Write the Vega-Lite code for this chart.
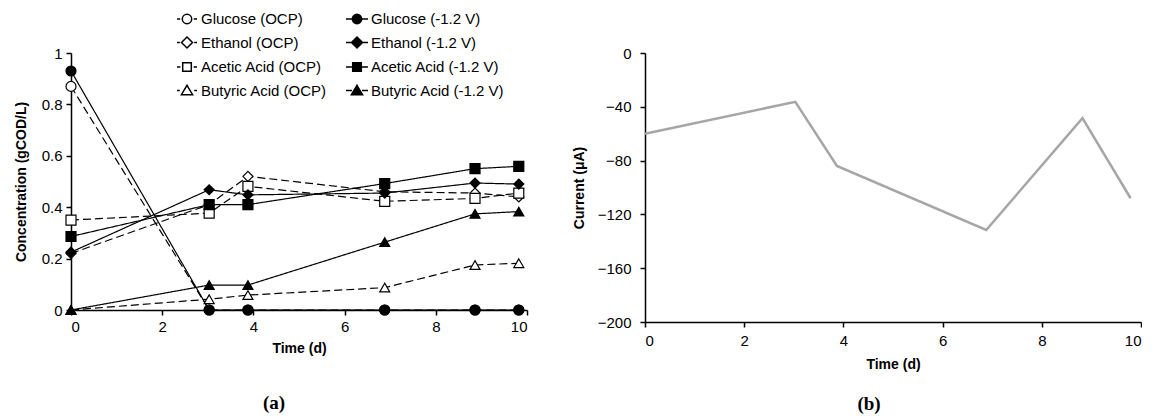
{
  "$schema": "https://vega.github.io/schema/vega-lite/v6.json",
  "padding": {"left": 14, "top": 8, "right": 0, "bottom": 0},
  "spacing": 44,
  "background": "white",
  "config": {
    "view": {"stroke": null},
    "axis": {
      "grid": false,
      "domainColor": "black", "domainWidth": 1.5,
      "tickColor": "black", "tickWidth": 1.5, "tickSize": 5,
      "labelFont": "Liberation Sans", "labelFontSize": 15, "labelColor": "black",
      "titleFont": "Liberation Sans", "titleFontSize": 14, "titleFontWeight": "bold", "titleColor": "black"
    },
    "title": {"font": "Liberation Serif", "fontSize": 19, "fontWeight": "bold", "color": "black"}
  },
  "hconcat": [
    {
      "width": 456,
      "height": 257,
      "title": {"text": "(a)", "orient": "bottom", "anchor": "middle", "dx": -25, "offset": 39},
      "data": {"values": [
        {"t": 0, "series": "Glucose (OCP)", "cond": "OCP", "v": 0.87},
        {"t": 3.03, "series": "Glucose (OCP)", "cond": "OCP", "v": 0.0},
        {"t": 3.88, "series": "Glucose (OCP)", "cond": "OCP", "v": 0.0},
        {"t": 6.88, "series": "Glucose (OCP)", "cond": "OCP", "v": 0.0},
        {"t": 8.86, "series": "Glucose (OCP)", "cond": "OCP", "v": 0.0},
        {"t": 9.82, "series": "Glucose (OCP)", "cond": "OCP", "v": 0.0},
        {"t": 0, "series": "Ethanol (OCP)", "cond": "OCP", "v": 0.22},
        {"t": 3.03, "series": "Ethanol (OCP)", "cond": "OCP", "v": 0.41},
        {"t": 3.88, "series": "Ethanol (OCP)", "cond": "OCP", "v": 0.52},
        {"t": 6.88, "series": "Ethanol (OCP)", "cond": "OCP", "v": 0.46},
        {"t": 8.86, "series": "Ethanol (OCP)", "cond": "OCP", "v": 0.455},
        {"t": 9.82, "series": "Ethanol (OCP)", "cond": "OCP", "v": 0.44},
        {"t": 0, "series": "Acetic Acid (OCP)", "cond": "OCP", "v": 0.35},
        {"t": 3.03, "series": "Acetic Acid (OCP)", "cond": "OCP", "v": 0.377},
        {"t": 3.88, "series": "Acetic Acid (OCP)", "cond": "OCP", "v": 0.481},
        {"t": 6.88, "series": "Acetic Acid (OCP)", "cond": "OCP", "v": 0.423},
        {"t": 8.86, "series": "Acetic Acid (OCP)", "cond": "OCP", "v": 0.434},
        {"t": 9.82, "series": "Acetic Acid (OCP)", "cond": "OCP", "v": 0.455},
        {"t": 0, "series": "Butyric Acid (OCP)", "cond": "OCP", "v": 0.0},
        {"t": 3.03, "series": "Butyric Acid (OCP)", "cond": "OCP", "v": 0.042},
        {"t": 3.88, "series": "Butyric Acid (OCP)", "cond": "OCP", "v": 0.058},
        {"t": 6.88, "series": "Butyric Acid (OCP)", "cond": "OCP", "v": 0.087},
        {"t": 8.86, "series": "Butyric Acid (OCP)", "cond": "OCP", "v": 0.175},
        {"t": 9.82, "series": "Butyric Acid (OCP)", "cond": "OCP", "v": 0.182},
        {"t": 0, "series": "Glucose (-1.2 V)", "cond": "-1.2 V", "v": 0.93},
        {"t": 3.03, "series": "Glucose (-1.2 V)", "cond": "-1.2 V", "v": 0.0},
        {"t": 3.88, "series": "Glucose (-1.2 V)", "cond": "-1.2 V", "v": 0.0},
        {"t": 6.88, "series": "Glucose (-1.2 V)", "cond": "-1.2 V", "v": 0.0},
        {"t": 8.86, "series": "Glucose (-1.2 V)", "cond": "-1.2 V", "v": 0.0},
        {"t": 9.82, "series": "Glucose (-1.2 V)", "cond": "-1.2 V", "v": 0.0},
        {"t": 0, "series": "Ethanol (-1.2 V)", "cond": "-1.2 V", "v": 0.225},
        {"t": 3.03, "series": "Ethanol (-1.2 V)", "cond": "-1.2 V", "v": 0.468},
        {"t": 3.88, "series": "Ethanol (-1.2 V)", "cond": "-1.2 V", "v": 0.448},
        {"t": 6.88, "series": "Ethanol (-1.2 V)", "cond": "-1.2 V", "v": 0.455},
        {"t": 8.86, "series": "Ethanol (-1.2 V)", "cond": "-1.2 V", "v": 0.494},
        {"t": 9.82, "series": "Ethanol (-1.2 V)", "cond": "-1.2 V", "v": 0.49},
        {"t": 0, "series": "Acetic Acid (-1.2 V)", "cond": "-1.2 V", "v": 0.286},
        {"t": 3.03, "series": "Acetic Acid (-1.2 V)", "cond": "-1.2 V", "v": 0.41},
        {"t": 3.88, "series": "Acetic Acid (-1.2 V)", "cond": "-1.2 V", "v": 0.41},
        {"t": 6.88, "series": "Acetic Acid (-1.2 V)", "cond": "-1.2 V", "v": 0.492},
        {"t": 8.86, "series": "Acetic Acid (-1.2 V)", "cond": "-1.2 V", "v": 0.55},
        {"t": 9.82, "series": "Acetic Acid (-1.2 V)", "cond": "-1.2 V", "v": 0.559},
        {"t": 0, "series": "Butyric Acid (-1.2 V)", "cond": "-1.2 V", "v": 0.0},
        {"t": 3.03, "series": "Butyric Acid (-1.2 V)", "cond": "-1.2 V", "v": 0.097},
        {"t": 3.88, "series": "Butyric Acid (-1.2 V)", "cond": "-1.2 V", "v": 0.097},
        {"t": 6.88, "series": "Butyric Acid (-1.2 V)", "cond": "-1.2 V", "v": 0.264},
        {"t": 8.86, "series": "Butyric Acid (-1.2 V)", "cond": "-1.2 V", "v": 0.374},
        {"t": 9.82, "series": "Butyric Acid (-1.2 V)", "cond": "-1.2 V", "v": 0.383}
      ]},
      "resolve": {"scale": {"shape": "independent", "fill": "independent"}},
      "layer": [
        {
          "mark": {"type": "line", "color": "black", "strokeWidth": 1.2},
          "encoding": {
            "x": {"field": "t", "type": "quantitative", "scale": {"domain": [0, 10], "nice": false},
                  "axis": {"title": "Time (d)", "values": [0, 2, 4, 6, 8, 10], "labelPadding": 4, "titlePadding": 7}},
            "y": {"field": "v", "type": "quantitative", "scale": {"domain": [0, 1], "nice": false},
                  "axis": {"title": "Concentration (gCOD/L)", "values": [0, 0.2, 0.4, 0.6, 0.8, 1], "format": "~g", "labelPadding": 4, "titlePadding": 13}},
            "detail": {"field": "series", "type": "nominal"},
            "strokeDash": {"field": "cond", "type": "nominal", "scale": {"domain": ["OCP", "-1.2 V"], "range": [[8, 4], [1, 0]]}, "legend": null}
          }
        },
        {
          "mark": {"type": "point", "filled": true, "stroke": "black", "strokeWidth": 1.2, "size": 100, "opacity": 1},
          "encoding": {
            "x": {"field": "t", "type": "quantitative"},
            "y": {"field": "v", "type": "quantitative"},
            "shape": {
              "field": "series", "type": "nominal",
              "scale": {
                "domain": ["Glucose (OCP)", "Ethanol (OCP)", "Acetic Acid (OCP)", "Butyric Acid (OCP)", "Glucose (-1.2 V)", "Ethanol (-1.2 V)", "Acetic Acid (-1.2 V)", "Butyric Acid (-1.2 V)"],
                "range": ["circle", "diamond", "square", "triangle-up", "circle", "diamond", "square", "triangle-up"]
              },
              "legend": null
            },
            "fill": {
              "field": "series", "type": "nominal",
              "scale": {
                "domain": ["Glucose (OCP)", "Ethanol (OCP)", "Acetic Acid (OCP)", "Butyric Acid (OCP)", "Glucose (-1.2 V)", "Ethanol (-1.2 V)", "Acetic Acid (-1.2 V)", "Butyric Acid (-1.2 V)"],
                "range": ["white", "white", "white", "white", "black", "black", "black", "black"]
              },
              "legend": null
            }
          }
        },
        {
          "transform": [{"filter": "datum.t < 0"}],
          "mark": {"type": "point", "filled": true, "stroke": "black", "strokeWidth": 1.2, "opacity": 1},
          "encoding": {
            "x": {"field": "t", "type": "quantitative"},
            "y": {"field": "v", "type": "quantitative"},
            "shape": {
              "field": "series", "type": "nominal",
              "scale": {
                "domain": ["Glucose (OCP)", "Ethanol (OCP)", "Acetic Acid (OCP)", "Butyric Acid (OCP)", "Glucose (-1.2 V)", "Ethanol (-1.2 V)", "Acetic Acid (-1.2 V)", "Butyric Acid (-1.2 V)"],
                "range": [
                  "M-0.47,0A0.47,0.47,0,1,1,0.47,0A0.47,0.47,0,1,1,-0.47,0ZM-1,0L-0.68,0M0.68,0L1,0",
                  "M0,-0.55L0.55,0L0,0.55L-0.55,0ZM-1,0L-0.72,0M0.72,0L1,0",
                  "M-0.43,-0.43L0.43,-0.43L0.43,0.43L-0.43,0.43ZM-1,0L-0.66,0M0.66,0L1,0",
                  "M0,-0.52L0.56,0.42L-0.56,0.42ZM-1,0L-0.72,0M0.72,0L1,0",
                  "M-0.47,0A0.47,0.47,0,1,1,0.47,0A0.47,0.47,0,1,1,-0.47,0ZM-1.1,0L-0.47,0M0.47,0L1.1,0",
                  "M0,-0.55L0.55,0L0,0.55L-0.55,0ZM-1.1,0L-0.55,0M0.55,0L1.1,0",
                  "M-0.43,-0.43L0.43,-0.43L0.43,0.43L-0.43,0.43ZM-1.1,0L-0.43,0M0.43,0L1.1,0",
                  "M0,-0.52L0.56,0.42L-0.56,0.42ZM-1.1,0L-0.5,0M0.5,0L1.1,0"
                ]
              },
              "legend": {
                "title": null,
                "orient": "none",
                "legendX": 105,
                "legendY": -45,
                "columns": 2,
                "columnPadding": 16,
                "rowPadding": 4.5,
                "symbolSize": 400,
                "labelFont": "Liberation Sans",
                "labelFontSize": 15,
                "labelColor": "black",
                "labelOffset": 3,
                "labelLimit": 0
              }
            },
            "fill": {
              "field": "series", "type": "nominal",
              "scale": {
                "domain": ["Glucose (OCP)", "Ethanol (OCP)", "Acetic Acid (OCP)", "Butyric Acid (OCP)", "Glucose (-1.2 V)", "Ethanol (-1.2 V)", "Acetic Acid (-1.2 V)", "Butyric Acid (-1.2 V)"],
                "range": ["white", "white", "white", "white", "black", "black", "black", "black"]
              },
              "legend": {
                "title": null,
                "orient": "none",
                "legendX": 105,
                "legendY": -45,
                "columns": 2,
                "columnPadding": 16,
                "rowPadding": 4.5,
                "symbolSize": 400,
                "labelFont": "Liberation Sans",
                "labelFontSize": 15,
                "labelColor": "black",
                "labelOffset": 3,
                "labelLimit": 0
              }
            }
          }
        }
      ]
    },
    {
      "width": 496,
      "height": 269,
      "title": {"text": "(b)", "orient": "bottom", "anchor": "middle", "dx": -24, "offset": 24},
      "data": {"values": [
        {"t": 0, "current": -60},
        {"t": 3.03, "current": -36.3},
        {"t": 3.87, "current": -84},
        {"t": 6.88, "current": -131.6},
        {"t": 8.82, "current": -48.4},
        {"t": 9.79, "current": -108}
      ]},
      "mark": {"type": "line", "color": "#A6A6A6", "strokeWidth": 2.5},
      "encoding": {
        "x": {"field": "t", "type": "quantitative", "scale": {"domain": [0, 10], "nice": false},
              "axis": {"title": "Time (d)", "values": [0, 2, 4, 6, 8, 10], "labelPadding": 6, "titlePadding": 9}},
        "y": {"field": "current", "type": "quantitative", "scale": {"domain": [-200, 0], "nice": false},
              "axis": {"title": "Current  (μA)", "values": [-200, -160, -120, -80, -40, 0], "labelPadding": 9, "titlePadding": 11}}
      }
    }
  ]
}
